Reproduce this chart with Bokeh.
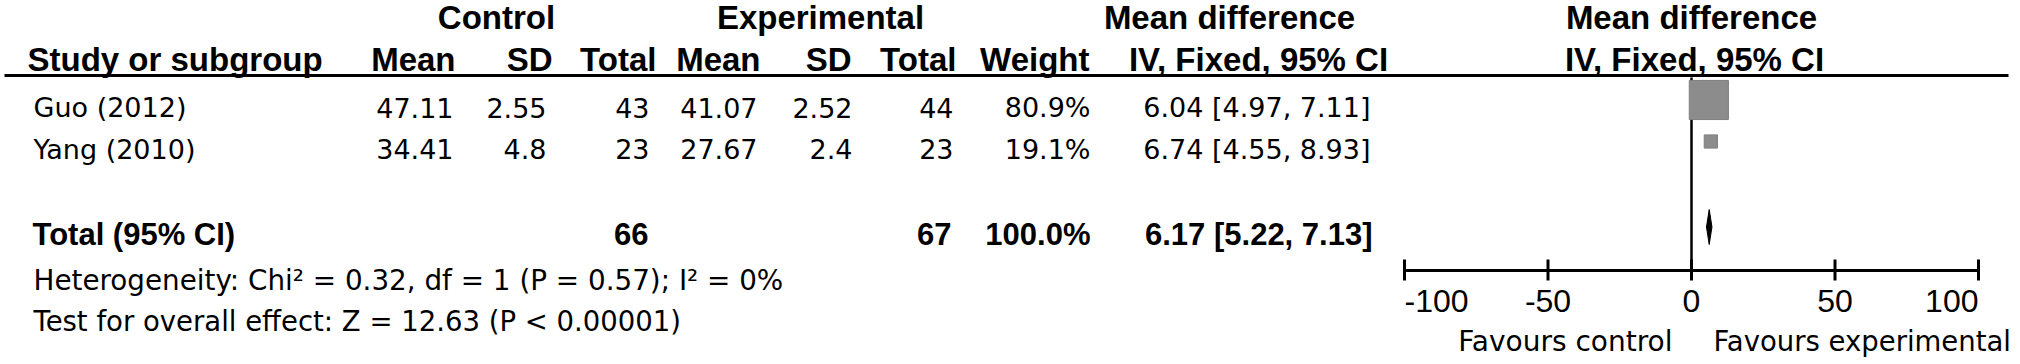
from bokeh.plotting import figure
from bokeh.models import Range1d, ColumnDataSource
from bokeh.core.properties import value
from bokeh.embed import file_html
from bokeh.resources import INLINE

# ---------------- data ----------------
studies = ["Guo (2012)", "Yang (2010)"]
ctrl_mean = [47.11, 34.41]
ctrl_sd = [2.55, 4.8]
ctrl_total = [43, 23]
exp_mean = [41.07, 27.67]
exp_sd = [2.52, 2.4]
exp_total = [44, 23]
weights = [80.9, 19.1]
md = [6.04, 6.74]
md_low = [4.97, 4.55]
md_high = [7.11, 8.93]

pooled_ctrl_total = 66
pooled_exp_total = 67
pooled_weight = 100.0
pooled_md = 6.17
pooled_low = 5.22
pooled_high = 7.13

heterogeneity = "Heterogeneity: Chi\u00b2 = 0.32, df = 1 (P = 0.57); I\u00b2 = 0%"
overall_effect = "Test for overall effect: Z = 12.63 (P < 0.00001)"

axis_ticks = [-100, -50, 0, 50, 100]
favours = ["Favours control", "Favours experimental"]

# ---------------- layout ----------------
W, H = 2020, 364
ZERO_PX = 1691          # page position of a zero mean difference
PX_PER_UNIT = 2.87      # forest-plot scale

BOLD_FONT = "Liberation Sans"
REG_FONT = "DejaVu Sans"
INK = "#000000"

p = figure(width=W, height=H, x_range=Range1d(0, W), y_range=Range1d(H, 0),
           output_backend="svg", toolbar_location=None,
           x_axis_location=None, y_axis_location=None,
           min_border=0, outline_line_color=None,
           background_fill_color="white", border_fill_color="white")
p.grid.visible = False
p.extra_x_ranges = {"md": Range1d(-ZERO_PX / PX_PER_UNIT, (W - ZERO_PX) / PX_PER_UNIT)}


def label(x, y, s, size, bold=False, align="left", font=None, rng="default", dx=0):
    p.text(x=[x], y=[y], text=[s],
           text_font=value(font or (BOLD_FONT if bold else REG_FONT)),
           text_font_size=f"{size}px",
           text_font_style="bold" if bold else "normal",
           text_align=align, text_baseline="middle",
           text_color=INK, x_range_name=rng, x_offset=dx)


def num(v):
    return f"{v:g}"


# vertical centres of the text rows
Y_GROUP, Y_HEAD = 16.5, 58.5
row_mid = [107, 148.5]
Y_TOTAL, Y_HET, Y_TEST = 233.5, 280, 320.5
Y_RULE = 75
Y_AXIS = 270
Y_TICKLAB, Y_FAV = 300, 340.5

# ---- header ----
label(496, Y_GROUP, "Control", 33, bold=True, align="center")
label(820, Y_GROUP, "Experimental", 33, bold=True, align="center")
label(1229, Y_GROUP, "Mean difference", 33, bold=True, align="center")
label(0, Y_GROUP, "Mean difference", 33, bold=True, align="center", rng="md")

label(27, Y_HEAD, "Study or subgroup", 33, bold=True)
for txt, xr in [("Mean", 455), ("SD", 552), ("Total", 656),
                ("Mean", 760), ("SD", 851), ("Total", 956), ("Weight", 1089)]:
    label(xr, Y_HEAD, txt, 33, bold=True, align="right")
label(1258, Y_HEAD, "IV, Fixed, 95% CI", 33, bold=True, align="center")
label(0, Y_HEAD, "IV, Fixed, 95% CI", 33, bold=True, align="center", rng="md", dx=3)

p.segment(x0=[4], y0=[Y_RULE], x1=[2008], y1=[Y_RULE], line_color=INK, line_width=3)

# ---- study rows ----
col_right = [453, 546, 649, 757, 852, 953, 1090, 1370]
for i, name in enumerate(studies):
    ym = row_mid[i]
    label(33, ym, name, 27)
    cells = [num(ctrl_mean[i]), num(ctrl_sd[i]), str(ctrl_total[i]),
             num(exp_mean[i]), num(exp_sd[i]), str(exp_total[i]),
             f"{weights[i]:.1f}%",
             f"{md[i]:.2f} [{md_low[i]:.2f}, {md_high[i]:.2f}]"]
    for txt, xr in zip(cells, col_right):
        label(xr, ym, txt, 27, align="right")

# ---- pooled row ----
label(32, Y_TOTAL, "Total (95% CI)", 31, bold=True)
label(648, Y_TOTAL, str(pooled_ctrl_total), 31, bold=True, align="right")
label(951, Y_TOTAL, str(pooled_exp_total), 31, bold=True, align="right")
label(1090, Y_TOTAL, f"{pooled_weight:.1f}%", 31, bold=True, align="right")
label(1372, Y_TOTAL, f"{pooled_md:.2f} [{pooled_low:.2f}, {pooled_high:.2f}]", 31,
      bold=True, align="right")

label(33, Y_HET, heterogeneity, 27.8)
label(33, Y_TEST, overall_effect, 27.5)

# ---- forest plot ----
marker_y = [m - 7.5 for m in row_mid]
sides = [1.45 * w ** 0.75 for w in weights]

# line of no effect
p.segment(x0=[0], y0=[Y_RULE + 2], x1=[0], y1=[Y_AXIS], x_range_name="md",
          line_color=INK, line_width=2.5)

src = ColumnDataSource(dict(md=md, lo=md_low, hi=md_high, y=marker_y, side=sides))
p.segment(x0="lo", x1="hi", y0="y", y1="y", source=src, x_range_name="md",
          line_color=INK, line_width=1)
p.rect(x="md", y="y", width="side", height="side", source=src,
       width_units="screen", height_units="screen", x_range_name="md",
       fill_color="#8c8c8c", line_color="#7f7f7f", line_width=1)

yc = Y_TOTAL - 7
half = 17.5
p.patch(x=[pooled_low, pooled_md, pooled_high, pooled_md],
        y=[yc, yc - half, yc, yc + half], x_range_name="md",
        fill_color=INK, line_color=INK, line_width=1)

# axis
p.segment(x0=[min(axis_ticks)], x1=[max(axis_ticks)], y0=[Y_AXIS], y1=[Y_AXIS],
          x_range_name="md", line_color=INK, line_width=3)
p.segment(x0=axis_ticks, x1=axis_ticks, y0=[Y_AXIS - 11] * len(axis_ticks),
          y1=[Y_AXIS + 10] * len(axis_ticks), x_range_name="md",
          line_color=INK, line_width=3)
aligns = ["left"] + ["center"] * (len(axis_ticks) - 2) + ["right"]
tick_src = ColumnDataSource(dict(x=axis_ticks, y=[Y_TICKLAB] * len(axis_ticks),
                                 t=[str(t) for t in axis_ticks], a=aligns))
p.text(x="x", y="y", text="t", text_align="a", source=tick_src, x_range_name="md",
       text_font=value("Liberation Sans"), text_font_size="32px",
       text_baseline="middle", text_color=INK)

label(0, Y_FAV, favours[0], 28, align="right", rng="md", dx=-19)
label(0, Y_FAV, favours[1], 27.5, align="left", rng="md", dx=22)

open("out.html", "w").write(file_html(p, INLINE))
